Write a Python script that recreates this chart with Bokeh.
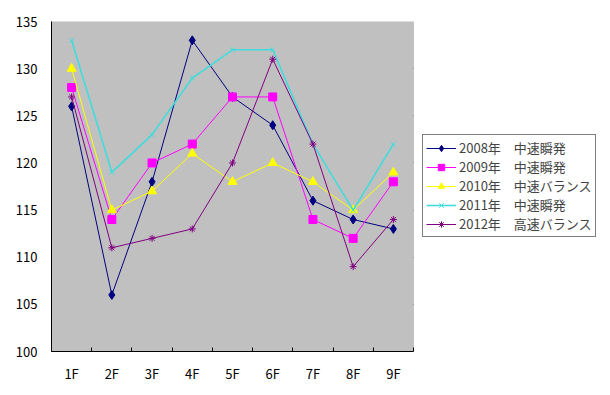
from bokeh.plotting import figure
from bokeh.models import FixedTicker, Legend, LegendItem, Range1d, BoxAnnotation
from bokeh.embed import file_html
from bokeh.resources import INLINE

categories = ["1F", "2F", "3F", "4F", "5F", "6F", "7F", "8F", "9F"]
series_names = ["2008年　中速瞬発", "2009年　中速瞬発", "2010年　中速バランス",
                "2011年　中速瞬発", "2012年　高速バランス"]
s2008 = [126, 106, 118, 133, 127, 124, 116, 114, 113]
s2009 = [128, 114, 120, 122, 127, 127, 114, 112, 118]
s2010 = [130, 115, 117, 121, 118, 120, 118, 115, 119]
s2011 = [133, 119, 123, 129, 132, 132, 122, 115, 122]
s2012 = [127, 111, 112, 113, 120, 131, 122, 109, 114]
y_ticks = [100, 105, 110, 115, 120, 125, 130, 135]

colors = ["#000080", "#FF00FF", "#FFFF00", "#40DCDC", "#800080"]
markers = ["diamond", "square", "triangle", "x", "asterisk"]
msizes = [9, 8, 9, 7, 7]
lwidths = [1, 1, 1, 1.6, 1]

FONT = "Noto Sans CJK JP"

n = len(categories)
x = list(range(1, n + 1))
x_lo, x_hi = 0.5, n + 0.5
y_lo, y_hi = y_ticks[0], y_ticks[-1]

PLOT_W, AREA_W = 551, 362   # drawable width vs. gray plot-area width (px)
x_end = x_lo + (x_hi - x_lo) * PLOT_W / AREA_W

p = figure(width=602, height=387, output_backend="svg",
           toolbar_location=None, x_range=Range1d(x_lo, x_end),
           y_range=Range1d(y_lo, y_hi), min_border_left=51, min_border_top=21,
           min_border_bottom=36, min_border_right=0)
p.background_fill_color = "white"
p.border_fill_color = "white"
p.outline_line_color = None

# gray plot area with gray border (top/right visible)
p.add_layout(BoxAnnotation(left=x_lo, right=x_hi, bottom=y_lo, top=y_hi,
                           fill_color="#C0C0C0", fill_alpha=1,
                           line_color="#808080", line_width=1, level="underlay"))

p.xgrid.grid_line_color = None
p.ygrid.grid_line_color = "black"
p.ygrid.grid_line_width = 1
p.ygrid.cross_bounds = (x_lo, x_hi)
p.ygrid.level = "underlay"

p.yaxis.ticker = FixedTicker(ticks=y_ticks)
p.yaxis.major_tick_in = 0
p.yaxis.major_tick_out = 0
p.yaxis.minor_tick_line_color = None
p.yaxis.minor_tick_out = 0
p.yaxis.axis_line_color = "black"
p.yaxis.major_label_standoff = 14
p.yaxis.major_label_text_font = FONT
p.yaxis.major_label_text_font_size = "13px"
p.yaxis.major_label_text_color = "black"

p.xaxis.ticker = FixedTicker(ticks=x, minor_ticks=[i + 0.5 for i in range(0, n + 1)])
p.xaxis.major_label_overrides = {i: c for i, c in zip(x, categories)}
p.xaxis.bounds = (x_lo, x_hi)
p.xaxis.major_tick_line_color = None
p.xaxis.major_tick_in = 0
p.xaxis.major_tick_out = 0
p.xaxis.minor_tick_line_color = "black"
p.xaxis.minor_tick_in = 4
p.xaxis.minor_tick_out = 0
p.xaxis.axis_line_color = "black"
p.xaxis.major_label_standoff = 12
p.xaxis.major_label_text_font = FONT
p.xaxis.major_label_text_font_size = "13px"
p.xaxis.major_label_text_color = "black"

items = []
for name, vals, c, m, ms, lw in zip(series_names, [s2008, s2009, s2010, s2011, s2012],
                                    colors, markers, msizes, lwidths):
    lr = p.line(x, vals, line_color=c, line_width=lw)
    sr = p.scatter(x, vals, marker=m, size=ms, fill_color=c, line_color=c, line_width=1)
    items.append(LegendItem(label=name, renderers=[lr, sr]))

legend = Legend(items=items, location=(371, 114), border_line_color="black",
                border_line_width=1, background_fill_color="white",
                background_fill_alpha=1, label_text_font=FONT,
                label_text_font_size="13px", label_height=16, glyph_height=16,
                glyph_width=30, spacing=0, padding=3, label_standoff=3,
                margin=0)
p.add_layout(legend, "center")

open("out.html", "w").write(file_html(p, INLINE))
